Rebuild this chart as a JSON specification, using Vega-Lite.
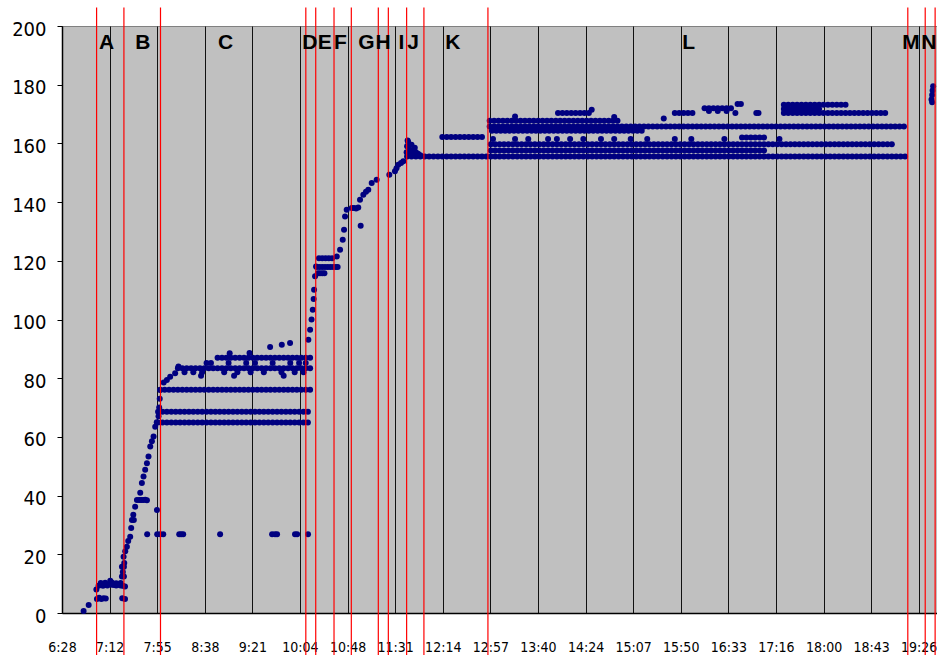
{
"$schema": "https://vega.github.io/schema/vega-lite/v6.json",
"width": 875, "height": 587,
"autosize": {"type": "none"},
"padding": {"left": 62, "top": 26, "right": 0, "bottom": 46},
"background": "white",
"config": {"view": {"fill": "#C0C0C0", "stroke": "#808080", "strokeWidth": 1}},
"datasets": {
"pts": [
{"t":408.4,"v":0.7},{"t":413,"v":2.7},{"t":420.5,"v":4.8},{"t":422.5,"v":5.2},{"t":424.5,"v":4.8},{"t":426.5,"v":5},{"t":428.5,"v":4.9},{"t":443.5,"v":5},{"t":446,"v":4.8},
{"t":420,"v":8},{"t":422,"v":9.3},{"t":424,"v":9.5},{"t":426,"v":9.3},{"t":428,"v":9.6},{"t":430,"v":9.4},{"t":432,"v":9.8},{"t":432.6,"v":11},{"t":434,"v":9.6},{"t":436,"v":9.5},{"t":438,"v":9.4},{"t":440,"v":9.6},{"t":442,"v":9.4},{"t":444,"v":9.3},{"t":446,"v":9},{"t":424,"v":10.2},{"t":428,"v":10.3},{"t":434,"v":10.4},{"t":438,"v":10.1},{"t":442,"v":10.2},
{"t":443.2,"v":12.4},{"t":445,"v":12.4},{"t":443.2,"v":15.8},{"t":445,"v":15.8},{"t":444,"v":14},{"t":444.7,"v":19.2},{"t":445.3,"v":17},{"t":446.2,"v":21},{"t":447.7,"v":22.6},{"t":448.9,"v":24.5},{"t":450.7,"v":26},{"t":451.6,"v":29},{"t":452.3,"v":31.7},{"t":454,"v":31.7},{"t":453.5,"v":33.5},{"t":455.2,"v":36.2},{"t":456.8,"v":38.5},{"t":458.9,"v":38.5},{"t":460.7,"v":38.5},{"t":462.5,"v":38.5},{"t":464.3,"v":38.6},{"t":465.9,"v":38.4},{"t":459.8,"v":41},{"t":461.3,"v":44.3},{"t":462.8,"v":46.5},{"t":464.3,"v":48.8},{"t":465.9,"v":51},{"t":467.3,"v":53.3},{"t":468.9,"v":56.7},{"t":470.4,"v":58.5},{"t":471.9,"v":60.1},{"t":473.4,"v":63.5},{"t":474.8,"v":65},{"t":476.4,"v":67},{"t":477,"v":70},{"t":477.5,"v":73},{"t":477.9,"v":76},
{"t":466.1,"v":26.8},{"t":475.2,"v":26.8},{"t":477.9,"v":26.8},{"t":480.7,"v":26.8},{"t":495.2,"v":26.8},{"t":497,"v":26.8},{"t":498.8,"v":26.8},{"t":532.3,"v":26.8},{"t":579.5,"v":26.8},{"t":582.2,"v":26.8},{"t":584,"v":26.8},{"t":600.3,"v":26.8},{"t":602.2,"v":26.8},{"t":612.1,"v":26.8},{"t":475,"v":35.1},
{"t":476,"v":64.9},{"t":480,"v":64.9},{"t":484,"v":64.9},{"t":488,"v":64.9},{"t":492,"v":64.9},{"t":496,"v":64.9},{"t":500,"v":64.9},{"t":504,"v":64.9},{"t":508,"v":64.9},{"t":512,"v":64.9},{"t":516,"v":64.9},{"t":520,"v":64.9},{"t":524,"v":64.9},{"t":528,"v":64.9},{"t":532,"v":64.9},{"t":536,"v":64.9},{"t":540,"v":64.9},{"t":544,"v":64.9},{"t":548,"v":64.9},{"t":552,"v":64.9},{"t":556,"v":64.9},{"t":560,"v":64.9},{"t":564,"v":64.9},{"t":568,"v":64.9},{"t":572,"v":64.9},{"t":576,"v":64.9},{"t":580,"v":64.9},{"t":584,"v":64.9},{"t":588,"v":64.9},{"t":592,"v":64.9},{"t":596,"v":64.9},{"t":600,"v":64.9},{"t":604,"v":64.9},{"t":608,"v":64.9},{"t":612,"v":64.9},
{"t":476,"v":68.6},{"t":480,"v":68.6},{"t":484,"v":68.6},{"t":488,"v":68.6},{"t":492,"v":68.6},{"t":496,"v":68.6},{"t":500,"v":68.6},{"t":504,"v":68.6},{"t":508,"v":68.6},{"t":512,"v":68.6},{"t":516,"v":68.6},{"t":520,"v":68.6},{"t":524,"v":68.6},{"t":528,"v":68.6},{"t":532,"v":68.6},{"t":536,"v":68.6},{"t":540,"v":68.6},{"t":544,"v":68.6},{"t":548,"v":68.6},{"t":552,"v":68.6},{"t":556,"v":68.6},{"t":560,"v":68.6},{"t":564,"v":68.6},{"t":568,"v":68.6},{"t":572,"v":68.6},{"t":576,"v":68.6},{"t":580,"v":68.6},{"t":584,"v":68.6},{"t":588,"v":68.6},{"t":592,"v":68.6},{"t":596,"v":68.6},{"t":600,"v":68.6},{"t":604,"v":68.6},{"t":608,"v":68.6},{"t":612,"v":68.6},
{"t":478,"v":76.1},{"t":482,"v":76.1},{"t":486,"v":76.1},{"t":490,"v":76.1},{"t":494,"v":76.1},{"t":498,"v":76.1},{"t":502,"v":76.1},{"t":506,"v":76.1},{"t":510,"v":76.1},{"t":514,"v":76.1},{"t":518,"v":76.1},{"t":522,"v":76.1},{"t":526,"v":76.1},{"t":530,"v":76.1},{"t":534,"v":76.1},{"t":538,"v":76.1},{"t":542,"v":76.1},{"t":546,"v":76.1},{"t":550,"v":76.1},{"t":554,"v":76.1},{"t":558,"v":76.1},{"t":562,"v":76.1},{"t":566,"v":76.1},{"t":570,"v":76.1},{"t":574,"v":76.1},{"t":578,"v":76.1},{"t":582,"v":76.1},{"t":586,"v":76.1},{"t":590,"v":76.1},{"t":594,"v":76.1},{"t":598,"v":76.1},{"t":602,"v":76.1},{"t":606,"v":76.1},{"t":610,"v":76.1},{"t":614,"v":76.1},
{"t":481.1,"v":78.5},{"t":484,"v":79.4},{"t":487,"v":80.5},{"t":491.5,"v":81.7},{"t":494.5,"v":84},
{"t":494,"v":83.4},{"t":498,"v":83.4},{"t":502,"v":83.4},{"t":506,"v":83.4},{"t":510,"v":83.4},{"t":514,"v":83.4},{"t":518,"v":83.4},{"t":522,"v":83.4},{"t":526,"v":83.4},{"t":530,"v":83.4},{"t":534,"v":83.4},{"t":538,"v":83.4},{"t":542,"v":83.4},{"t":546,"v":83.4},{"t":550,"v":83.4},{"t":554,"v":83.4},{"t":558,"v":83.4},{"t":562,"v":83.4},{"t":566,"v":83.4},{"t":570,"v":83.4},{"t":574,"v":83.4},{"t":578,"v":83.4},{"t":582,"v":83.4},{"t":586,"v":83.4},{"t":590,"v":83.4},{"t":594,"v":83.4},{"t":598,"v":83.4},{"t":602,"v":83.4},{"t":606,"v":83.4},{"t":610,"v":83.4},{"t":614,"v":83.4},
{"t":500,"v":82},{"t":508,"v":82},{"t":516,"v":82},{"t":536,"v":82},{"t":548,"v":82},{"t":560,"v":82},{"t":572,"v":82},{"t":588,"v":82},{"t":600,"v":82},{"t":608,"v":82},
{"t":520,"v":85.2},{"t":524,"v":85.2},{"t":540,"v":85.2},{"t":556,"v":85.2},{"t":564,"v":85.2},{"t":580,"v":85.2},{"t":596,"v":85.2},{"t":604,"v":85.2},{"t":610,"v":85.2},
{"t":515,"v":80.8},{"t":545,"v":80.8},{"t":590,"v":80.8},
{"t":530,"v":87},{"t":534,"v":87},{"t":538,"v":87},{"t":542,"v":87},{"t":546,"v":87},{"t":550,"v":87},{"t":554,"v":87},{"t":558,"v":87},{"t":562,"v":87},{"t":566,"v":87},{"t":570,"v":87},{"t":574,"v":87},{"t":578,"v":87},{"t":582,"v":87},{"t":586,"v":87},{"t":590,"v":87},{"t":594,"v":87},{"t":598,"v":87},{"t":602,"v":87},{"t":606,"v":87},{"t":610,"v":87},{"t":614,"v":87},
{"t":577.7,"v":90.6},{"t":588.3,"v":91.4},{"t":595.8,"v":92},{"t":541,"v":88.5},{"t":559,"v":88.6},
{"t":612.4,"v":93.1},{"t":614,"v":96.5},{"t":615.3,"v":100},{"t":616.4,"v":103.3},{"t":617.2,"v":107},{"t":617.6,"v":110.1},{"t":618.5,"v":114.7},{"t":619.4,"v":118.1},
{"t":620,"v":117.9},{"t":622.5,"v":117.9},{"t":625,"v":117.9},{"t":627.5,"v":117.9},{"t":630,"v":117.9},{"t":632.5,"v":117.9},{"t":635,"v":117.9},{"t":637.5,"v":117.9},{"t":639,"v":117.9},
{"t":621,"v":115.8},{"t":623,"v":115.8},{"t":625,"v":115.8},{"t":627,"v":115.8},
{"t":622,"v":120.9},{"t":625,"v":120.9},{"t":628,"v":120.9},{"t":631,"v":120.9},{"t":634,"v":120.9},
{"t":638.2,"v":121.5},{"t":641.2,"v":123.8},{"t":643.6,"v":127.2},{"t":644.8,"v":130.6},{"t":645.7,"v":135.1},{"t":647.2,"v":137.4},{"t":651.8,"v":138},{"t":653.9,"v":138},{"t":655.7,"v":137.8},{"t":657.7,"v":138.2},{"t":659.9,"v":131.9},{"t":659.3,"v":140.8},{"t":662.3,"v":142.5},{"t":664.7,"v":143.5},{"t":666.8,"v":144.2},{"t":669.9,"v":146.5},{"t":674.4,"v":147.6},{"t":685.9,"v":149.3},{"t":691,"v":150.5},{"t":692.4,"v":151.5},{"t":694,"v":152.7},{"t":696.5,"v":153.3},{"t":698.6,"v":153.9},
{"t":701.6,"v":157},{"t":702,"v":159},{"t":702.5,"v":161},{"t":703,"v":160.5},{"t":704,"v":158},{"t":705,"v":156.5},{"t":706,"v":159.5},{"t":707,"v":157.5},{"t":708,"v":156},{"t":709,"v":158.5},{"t":710,"v":157},{"t":712,"v":156.5},{"t":714,"v":156},
{"t":702,"v":155.5},{"t":706,"v":155.5},{"t":710,"v":155.5},{"t":714,"v":155.5},{"t":718,"v":155.5},{"t":722,"v":155.5},{"t":726,"v":155.5},{"t":730,"v":155.5},{"t":734,"v":155.5},{"t":738,"v":155.5},{"t":742,"v":155.5},{"t":746,"v":155.5},{"t":750,"v":155.5},{"t":754,"v":155.5},{"t":758,"v":155.5},{"t":762,"v":155.5},{"t":766,"v":155.5},{"t":770,"v":155.5},{"t":774,"v":155.5},{"t":778,"v":155.5},{"t":782,"v":155.5},{"t":786,"v":155.5},{"t":790,"v":155.5},{"t":794,"v":155.5},{"t":798,"v":155.5},{"t":802,"v":155.5},{"t":806,"v":155.5},{"t":810,"v":155.5},{"t":814,"v":155.5},{"t":818,"v":155.5},{"t":822,"v":155.5},{"t":826,"v":155.5},{"t":830,"v":155.5},{"t":834,"v":155.5},{"t":838,"v":155.5},{"t":842,"v":155.5},{"t":846,"v":155.5},{"t":850,"v":155.5},{"t":854,"v":155.5},{"t":858,"v":155.5},{"t":862,"v":155.5},{"t":866,"v":155.5},{"t":870,"v":155.5},{"t":874,"v":155.5},{"t":878,"v":155.5},{"t":882,"v":155.5},{"t":886,"v":155.5},{"t":890,"v":155.5},{"t":894,"v":155.5},{"t":898,"v":155.5},{"t":902,"v":155.5},{"t":906,"v":155.5},{"t":910,"v":155.5},{"t":914,"v":155.5},{"t":918,"v":155.5},{"t":922,"v":155.5},{"t":926,"v":155.5},{"t":930,"v":155.5},{"t":934,"v":155.5},{"t":938,"v":155.5},{"t":942,"v":155.5},{"t":946,"v":155.5},{"t":950,"v":155.5},{"t":954,"v":155.5},{"t":958,"v":155.5},{"t":962,"v":155.5},{"t":966,"v":155.5},{"t":970,"v":155.5},{"t":974,"v":155.5},{"t":978,"v":155.5},{"t":982,"v":155.5},{"t":986,"v":155.5},{"t":990,"v":155.5},{"t":994,"v":155.5},{"t":998,"v":155.5},{"t":1002,"v":155.5},{"t":1006,"v":155.5},{"t":1010,"v":155.5},{"t":1014,"v":155.5},{"t":1018,"v":155.5},{"t":1022,"v":155.5},{"t":1026,"v":155.5},{"t":1030,"v":155.5},{"t":1034,"v":155.5},{"t":1038,"v":155.5},{"t":1042,"v":155.5},{"t":1046,"v":155.5},{"t":1050,"v":155.5},{"t":1054,"v":155.5},{"t":1058,"v":155.5},{"t":1062,"v":155.5},{"t":1066,"v":155.5},{"t":1070,"v":155.5},{"t":1074,"v":155.5},{"t":1078,"v":155.5},{"t":1082,"v":155.5},{"t":1086,"v":155.5},{"t":1090,"v":155.5},{"t":1094,"v":155.5},{"t":1098,"v":155.5},{"t":1102,"v":155.5},{"t":1106,"v":155.5},{"t":1110,"v":155.5},{"t":1114,"v":155.5},{"t":1118,"v":155.5},{"t":1122,"v":155.5},{"t":1126,"v":155.5},{"t":1130,"v":155.5},{"t":1134,"v":155.5},{"t":1138,"v":155.5},{"t":1142,"v":155.5},{"t":1146,"v":155.5},{"t":1150,"v":155.5},{"t":1154,"v":155.5},
{"t":734,"v":162.2},{"t":738,"v":162.2},{"t":742,"v":162.2},{"t":746,"v":162.2},{"t":750,"v":162.2},{"t":754,"v":162.2},{"t":758,"v":162.2},{"t":762,"v":162.2},{"t":766,"v":162.2},{"t":770,"v":162.2},
{"t":778,"v":159.7},{"t":782,"v":159.7},{"t":786,"v":159.7},{"t":790,"v":159.7},{"t":794,"v":159.7},{"t":798,"v":159.7},{"t":802,"v":159.7},{"t":806,"v":159.7},{"t":810,"v":159.7},{"t":814,"v":159.7},{"t":818,"v":159.7},{"t":822,"v":159.7},{"t":826,"v":159.7},{"t":830,"v":159.7},{"t":834,"v":159.7},{"t":838,"v":159.7},{"t":842,"v":159.7},{"t":846,"v":159.7},{"t":850,"v":159.7},{"t":854,"v":159.7},{"t":858,"v":159.7},{"t":862,"v":159.7},{"t":866,"v":159.7},{"t":870,"v":159.7},{"t":874,"v":159.7},{"t":878,"v":159.7},{"t":882,"v":159.7},{"t":886,"v":159.7},{"t":890,"v":159.7},{"t":894,"v":159.7},{"t":898,"v":159.7},{"t":902,"v":159.7},{"t":906,"v":159.7},{"t":910,"v":159.7},{"t":914,"v":159.7},{"t":918,"v":159.7},{"t":922,"v":159.7},{"t":926,"v":159.7},{"t":930,"v":159.7},{"t":934,"v":159.7},{"t":938,"v":159.7},{"t":942,"v":159.7},{"t":946,"v":159.7},{"t":950,"v":159.7},{"t":954,"v":159.7},{"t":958,"v":159.7},{"t":962,"v":159.7},{"t":966,"v":159.7},{"t":970,"v":159.7},{"t":974,"v":159.7},{"t":978,"v":159.7},{"t":982,"v":159.7},{"t":986,"v":159.7},{"t":990,"v":159.7},{"t":994,"v":159.7},{"t":998,"v":159.7},{"t":1002,"v":159.7},{"t":1006,"v":159.7},{"t":1010,"v":159.7},{"t":1014,"v":159.7},{"t":1018,"v":159.7},{"t":1022,"v":159.7},{"t":1026,"v":159.7},{"t":1030,"v":159.7},{"t":1034,"v":159.7},{"t":1038,"v":159.7},{"t":1042,"v":159.7},{"t":1046,"v":159.7},{"t":1050,"v":159.7},{"t":1054,"v":159.7},{"t":1058,"v":159.7},{"t":1062,"v":159.7},{"t":1066,"v":159.7},{"t":1070,"v":159.7},{"t":1074,"v":159.7},{"t":1078,"v":159.7},{"t":1082,"v":159.7},{"t":1086,"v":159.7},{"t":1090,"v":159.7},{"t":1094,"v":159.7},{"t":1098,"v":159.7},{"t":1102,"v":159.7},{"t":1106,"v":159.7},{"t":1110,"v":159.7},{"t":1114,"v":159.7},{"t":1118,"v":159.7},{"t":1122,"v":159.7},{"t":1126,"v":159.7},{"t":1130,"v":159.7},{"t":1134,"v":159.7},{"t":1138,"v":159.7},{"t":1142,"v":159.7},
{"t":778,"v":157.6},{"t":782,"v":157.6},{"t":786,"v":157.6},{"t":790,"v":157.6},{"t":794,"v":157.6},{"t":798,"v":157.6},{"t":802,"v":157.6},{"t":806,"v":157.6},{"t":810,"v":157.6},{"t":814,"v":157.6},{"t":818,"v":157.6},{"t":822,"v":157.6},{"t":826,"v":157.6},{"t":830,"v":157.6},{"t":834,"v":157.6},{"t":838,"v":157.6},{"t":842,"v":157.6},{"t":846,"v":157.6},{"t":850,"v":157.6},{"t":854,"v":157.6},{"t":858,"v":157.6},{"t":862,"v":157.6},{"t":866,"v":157.6},{"t":870,"v":157.6},{"t":874,"v":157.6},{"t":878,"v":157.6},{"t":882,"v":157.6},{"t":886,"v":157.6},{"t":890,"v":157.6},{"t":894,"v":157.6},{"t":898,"v":157.6},{"t":902,"v":157.6},{"t":906,"v":157.6},{"t":910,"v":157.6},{"t":914,"v":157.6},{"t":918,"v":157.6},{"t":922,"v":157.6},{"t":926,"v":157.6},{"t":930,"v":157.6},{"t":934,"v":157.6},{"t":938,"v":157.6},{"t":942,"v":157.6},{"t":946,"v":157.6},{"t":950,"v":157.6},{"t":954,"v":157.6},{"t":958,"v":157.6},{"t":962,"v":157.6},{"t":966,"v":157.6},{"t":970,"v":157.6},{"t":974,"v":157.6},{"t":978,"v":157.6},{"t":982,"v":157.6},{"t":986,"v":157.6},{"t":990,"v":157.6},{"t":994,"v":157.6},{"t":998,"v":157.6},{"t":1002,"v":157.6},{"t":1006,"v":157.6},{"t":1010,"v":157.6},{"t":1014,"v":157.6},{"t":1018,"v":157.6},{"t":1022,"v":157.6},{"t":1026,"v":157.6},
{"t":777,"v":165.8},{"t":781,"v":165.8},{"t":785,"v":165.8},{"t":789,"v":165.8},{"t":793,"v":165.8},{"t":797,"v":165.8},{"t":801,"v":165.8},{"t":805,"v":165.8},{"t":809,"v":165.8},{"t":813,"v":165.8},{"t":817,"v":165.8},{"t":821,"v":165.8},{"t":825,"v":165.8},{"t":829,"v":165.8},{"t":833,"v":165.8},{"t":837,"v":165.8},{"t":841,"v":165.8},{"t":845,"v":165.8},{"t":849,"v":165.8},{"t":853,"v":165.8},{"t":857,"v":165.8},{"t":861,"v":165.8},{"t":865,"v":165.8},{"t":869,"v":165.8},{"t":873,"v":165.8},{"t":877,"v":165.8},{"t":881,"v":165.8},{"t":885,"v":165.8},{"t":889,"v":165.8},{"t":893,"v":165.8},{"t":897,"v":165.8},{"t":901,"v":165.8},{"t":905,"v":165.8},{"t":909,"v":165.8},{"t":913,"v":165.8},{"t":917,"v":165.8},{"t":921,"v":165.8},{"t":925,"v":165.8},{"t":929,"v":165.8},{"t":933,"v":165.8},{"t":937,"v":165.8},{"t":941,"v":165.8},{"t":945,"v":165.8},{"t":949,"v":165.8},{"t":953,"v":165.8},{"t":957,"v":165.8},{"t":961,"v":165.8},{"t":965,"v":165.8},{"t":969,"v":165.8},{"t":973,"v":165.8},{"t":977,"v":165.8},{"t":981,"v":165.8},{"t":985,"v":165.8},{"t":989,"v":165.8},{"t":993,"v":165.8},{"t":997,"v":165.8},{"t":1001,"v":165.8},{"t":1005,"v":165.8},{"t":1009,"v":165.8},{"t":1013,"v":165.8},{"t":1017,"v":165.8},{"t":1021,"v":165.8},{"t":1025,"v":165.8},{"t":1029,"v":165.8},{"t":1033,"v":165.8},{"t":1037,"v":165.8},{"t":1041,"v":165.8},{"t":1045,"v":165.8},{"t":1049,"v":165.8},{"t":1053,"v":165.8},{"t":1057,"v":165.8},{"t":1061,"v":165.8},{"t":1065,"v":165.8},{"t":1069,"v":165.8},{"t":1073,"v":165.8},{"t":1077,"v":165.8},{"t":1081,"v":165.8},{"t":1085,"v":165.8},{"t":1089,"v":165.8},{"t":1093,"v":165.8},{"t":1097,"v":165.8},{"t":1101,"v":165.8},{"t":1105,"v":165.8},{"t":1109,"v":165.8},{"t":1113,"v":165.8},{"t":1117,"v":165.8},{"t":1121,"v":165.8},{"t":1125,"v":165.8},{"t":1129,"v":165.8},{"t":1133,"v":165.8},{"t":1137,"v":165.8},{"t":1141,"v":165.8},{"t":1145,"v":165.8},{"t":1149,"v":165.8},{"t":1153,"v":165.8},
{"t":777,"v":167.7},{"t":781,"v":167.7},{"t":785,"v":167.7},{"t":789,"v":167.7},{"t":793,"v":167.7},{"t":797,"v":167.7},{"t":801,"v":167.7},{"t":805,"v":167.7},{"t":809,"v":167.7},{"t":813,"v":167.7},{"t":817,"v":167.7},{"t":821,"v":167.7},{"t":825,"v":167.7},{"t":829,"v":167.7},{"t":833,"v":167.7},{"t":837,"v":167.7},{"t":841,"v":167.7},{"t":845,"v":167.7},{"t":849,"v":167.7},{"t":853,"v":167.7},{"t":857,"v":167.7},{"t":861,"v":167.7},{"t":865,"v":167.7},{"t":869,"v":167.7},{"t":873,"v":167.7},{"t":877,"v":167.7},{"t":881,"v":167.7},{"t":885,"v":167.7},{"t":889,"v":167.7},{"t":893,"v":167.7},
{"t":779,"v":164.3},{"t":783,"v":164.3},{"t":787,"v":164.3},{"t":791,"v":164.3},{"t":795,"v":164.3},{"t":799,"v":164.3},{"t":803,"v":164.3},{"t":807,"v":164.3},{"t":811,"v":164.3},{"t":815,"v":164.3},{"t":819,"v":164.3},{"t":823,"v":164.3},{"t":827,"v":164.3},{"t":831,"v":164.3},{"t":835,"v":164.3},{"t":839,"v":164.3},{"t":843,"v":164.3},{"t":847,"v":164.3},{"t":851,"v":164.3},{"t":855,"v":164.3},{"t":859,"v":164.3},{"t":863,"v":164.3},{"t":867,"v":164.3},{"t":871,"v":164.3},{"t":875,"v":164.3},{"t":879,"v":164.3},{"t":883,"v":164.3},{"t":887,"v":164.3},{"t":891,"v":164.3},{"t":895,"v":164.3},{"t":899,"v":164.3},{"t":903,"v":164.3},{"t":907,"v":164.3},{"t":911,"v":164.3},{"t":915,"v":164.3},
{"t":780,"v":161.5},{"t":800,"v":161.5},{"t":812,"v":161.5},{"t":830,"v":161.5},{"t":838,"v":161.5},{"t":850,"v":161.5},{"t":862,"v":161.5},{"t":878,"v":161.5},{"t":890,"v":161.5},{"t":905,"v":161.5},{"t":920,"v":161.5},{"t":945,"v":161.5},{"t":960,"v":161.5},{"t":990,"v":161.5},{"t":1040,"v":161.5},
{"t":800,"v":169.2},{"t":890,"v":169},{"t":935,"v":168.5},
{"t":1006,"v":162},{"t":1010,"v":162},{"t":1014,"v":162},{"t":1018,"v":162},{"t":1022,"v":162},{"t":1026,"v":162},
{"t":839,"v":170.4},{"t":843,"v":170.4},{"t":847,"v":170.4},{"t":851,"v":170.4},{"t":855,"v":170.4},{"t":859,"v":170.4},{"t":863,"v":170.4},{"t":867,"v":170.4},{"t":869.6,"v":171.5},
{"t":945,"v":170.4},{"t":949,"v":170.4},{"t":953,"v":170.4},{"t":957,"v":170.4},{"t":961,"v":170.4},
{"t":972,"v":172},{"t":976,"v":172},{"t":980,"v":172},{"t":984,"v":172},{"t":988,"v":172},{"t":992,"v":172},{"t":996,"v":172},{"t":976,"v":171},{"t":984,"v":171},{"t":992,"v":171},
{"t":1002,"v":173.4},{"t":1005,"v":173.4},{"t":1000,"v":170.4},{"t":1019,"v":170.4},{"t":1021,"v":170.4},
{"t":1044,"v":170.4},{"t":1048,"v":170.4},{"t":1052,"v":170.4},{"t":1056,"v":170.4},{"t":1060,"v":170.4},{"t":1064,"v":170.4},{"t":1068,"v":170.4},{"t":1072,"v":170.4},{"t":1076,"v":170.4},{"t":1080,"v":170.4},{"t":1084,"v":170.4},{"t":1088,"v":170.4},{"t":1092,"v":170.4},{"t":1096,"v":170.4},{"t":1100,"v":170.4},{"t":1104,"v":170.4},{"t":1108,"v":170.4},{"t":1112,"v":170.4},{"t":1116,"v":170.4},{"t":1120,"v":170.4},{"t":1124,"v":170.4},{"t":1128,"v":170.4},{"t":1132,"v":170.4},{"t":1136,"v":170.4},
{"t":1044,"v":173.2},{"t":1048,"v":173.2},{"t":1052,"v":173.2},{"t":1056,"v":173.2},{"t":1060,"v":173.2},{"t":1064,"v":173.2},{"t":1068,"v":173.2},{"t":1072,"v":173.2},{"t":1076,"v":173.2},{"t":1080,"v":173.2},{"t":1084,"v":173.2},{"t":1088,"v":173.2},{"t":1092,"v":173.2},{"t":1096,"v":173.2},{"t":1100,"v":173.2},
{"t":1044,"v":171.7},{"t":1048,"v":171.7},{"t":1052,"v":171.7},{"t":1056,"v":171.7},{"t":1060,"v":171.7},{"t":1064,"v":171.7},{"t":1068,"v":171.7},{"t":1072,"v":171.7},{"t":1076,"v":171.7},
{"t":1178,"v":175},{"t":1178.6,"v":174},{"t":1178.6,"v":176.5},{"t":1179,"v":178},{"t":1179.5,"v":179.5}
],
"bounds": [
{"t":420.2},{"t":445},{"t":478.2},{"t":610.1},{"t":619.1},{"t":635.7},{"t":651.4},{"t":675.9},{"t":685},{"t":701.6},{"t":717.3},{"t":775.4},{"t":1156.5},{"t":1172.3},{"t":1181.3}
],
"phases": [
{"lab":"A","t":429.3},{"lab":"B","t":462.2},{"lab":"C","t":537.2},{"lab":"D","t":613.7},{"lab":"E","t":627.3},{"lab":"F","t":641.5},{"lab":"G","t":665.1},{"lab":"H","t":680.2},{"lab":"I","t":696.8},{"lab":"J","t":707.4},{"lab":"K","t":743.6},{"lab":"L","t":957.6},{"lab":"M","t":1159.3},{"lab":"N","t":1175.6}
]
},
"layer": [
{
"data": {"name": "pts"},
"mark": {"type": "point", "filled": true, "shape": "circle", "size": 36, "color": "#000080", "opacity": 1},
"encoding": {
"x": {"field": "t", "type": "quantitative",
 "scale": {"domain": [388.8, 1183], "nice": false, "zero": false},
 "axis": {"title": null, "values": [388.8,432,475.2,518.4,561.6,604.8,648,691.2,734.4,777.6,820.8,864,907.2,950.4,993.6,1036.8,1080,1123.2,1166.4],
  "labelExpr": "floor(datum.value/60) + ':' + (floor(datum.value%60) < 10 ? '0' : '') + floor(datum.value%60)",
  "grid": true, "gridColor": "#111111", "gridWidth": 1, "gridOpacity": 1,
  "ticks": false, "domainColor": "#000000", "domainWidth": 1.5,
  "labelFont": "DejaVu Sans Condensed", "labelFontSize": 14, "labelColor": "#000000",
  "labelPadding": 27, "labelFlush": false, "labelOverlap": false}},
"y": {"field": "v", "type": "quantitative",
 "scale": {"domain": [0, 200], "nice": false},
 "axis": {"title": null, "values": [0,20,40,60,80,100,120,140,160,180,200], "grid": false,
  "tickSize": 5, "tickColor": "#000000", "domainColor": "#000000", "domainWidth": 1.5,
  "labelFont": "DejaVu Sans Condensed", "labelFontSize": 20, "labelColor": "#000000",
  "labelPadding": 11, "labelOffset": 3, "labelFlush": false}}
}
},
{
"data": {"name": "bounds"},
"mark": {"type": "rule", "color": "#FF0000", "strokeWidth": 1.2},
"encoding": {"x": {"field": "t", "type": "quantitative"}, "y": {"datum": 206.3}, "y2": {"datum": -14.3}}
},
{
"data": {"name": "phases"},
"mark": {"type": "text", "font": "Liberation Sans", "fontWeight": "bold", "fontSize": 21, "color": "#000000", "baseline": "middle", "align": "center"},
"encoding": {"x": {"field": "t", "type": "quantitative"}, "y": {"datum": 194.3}, "text": {"field": "lab"}}
}
]
}
